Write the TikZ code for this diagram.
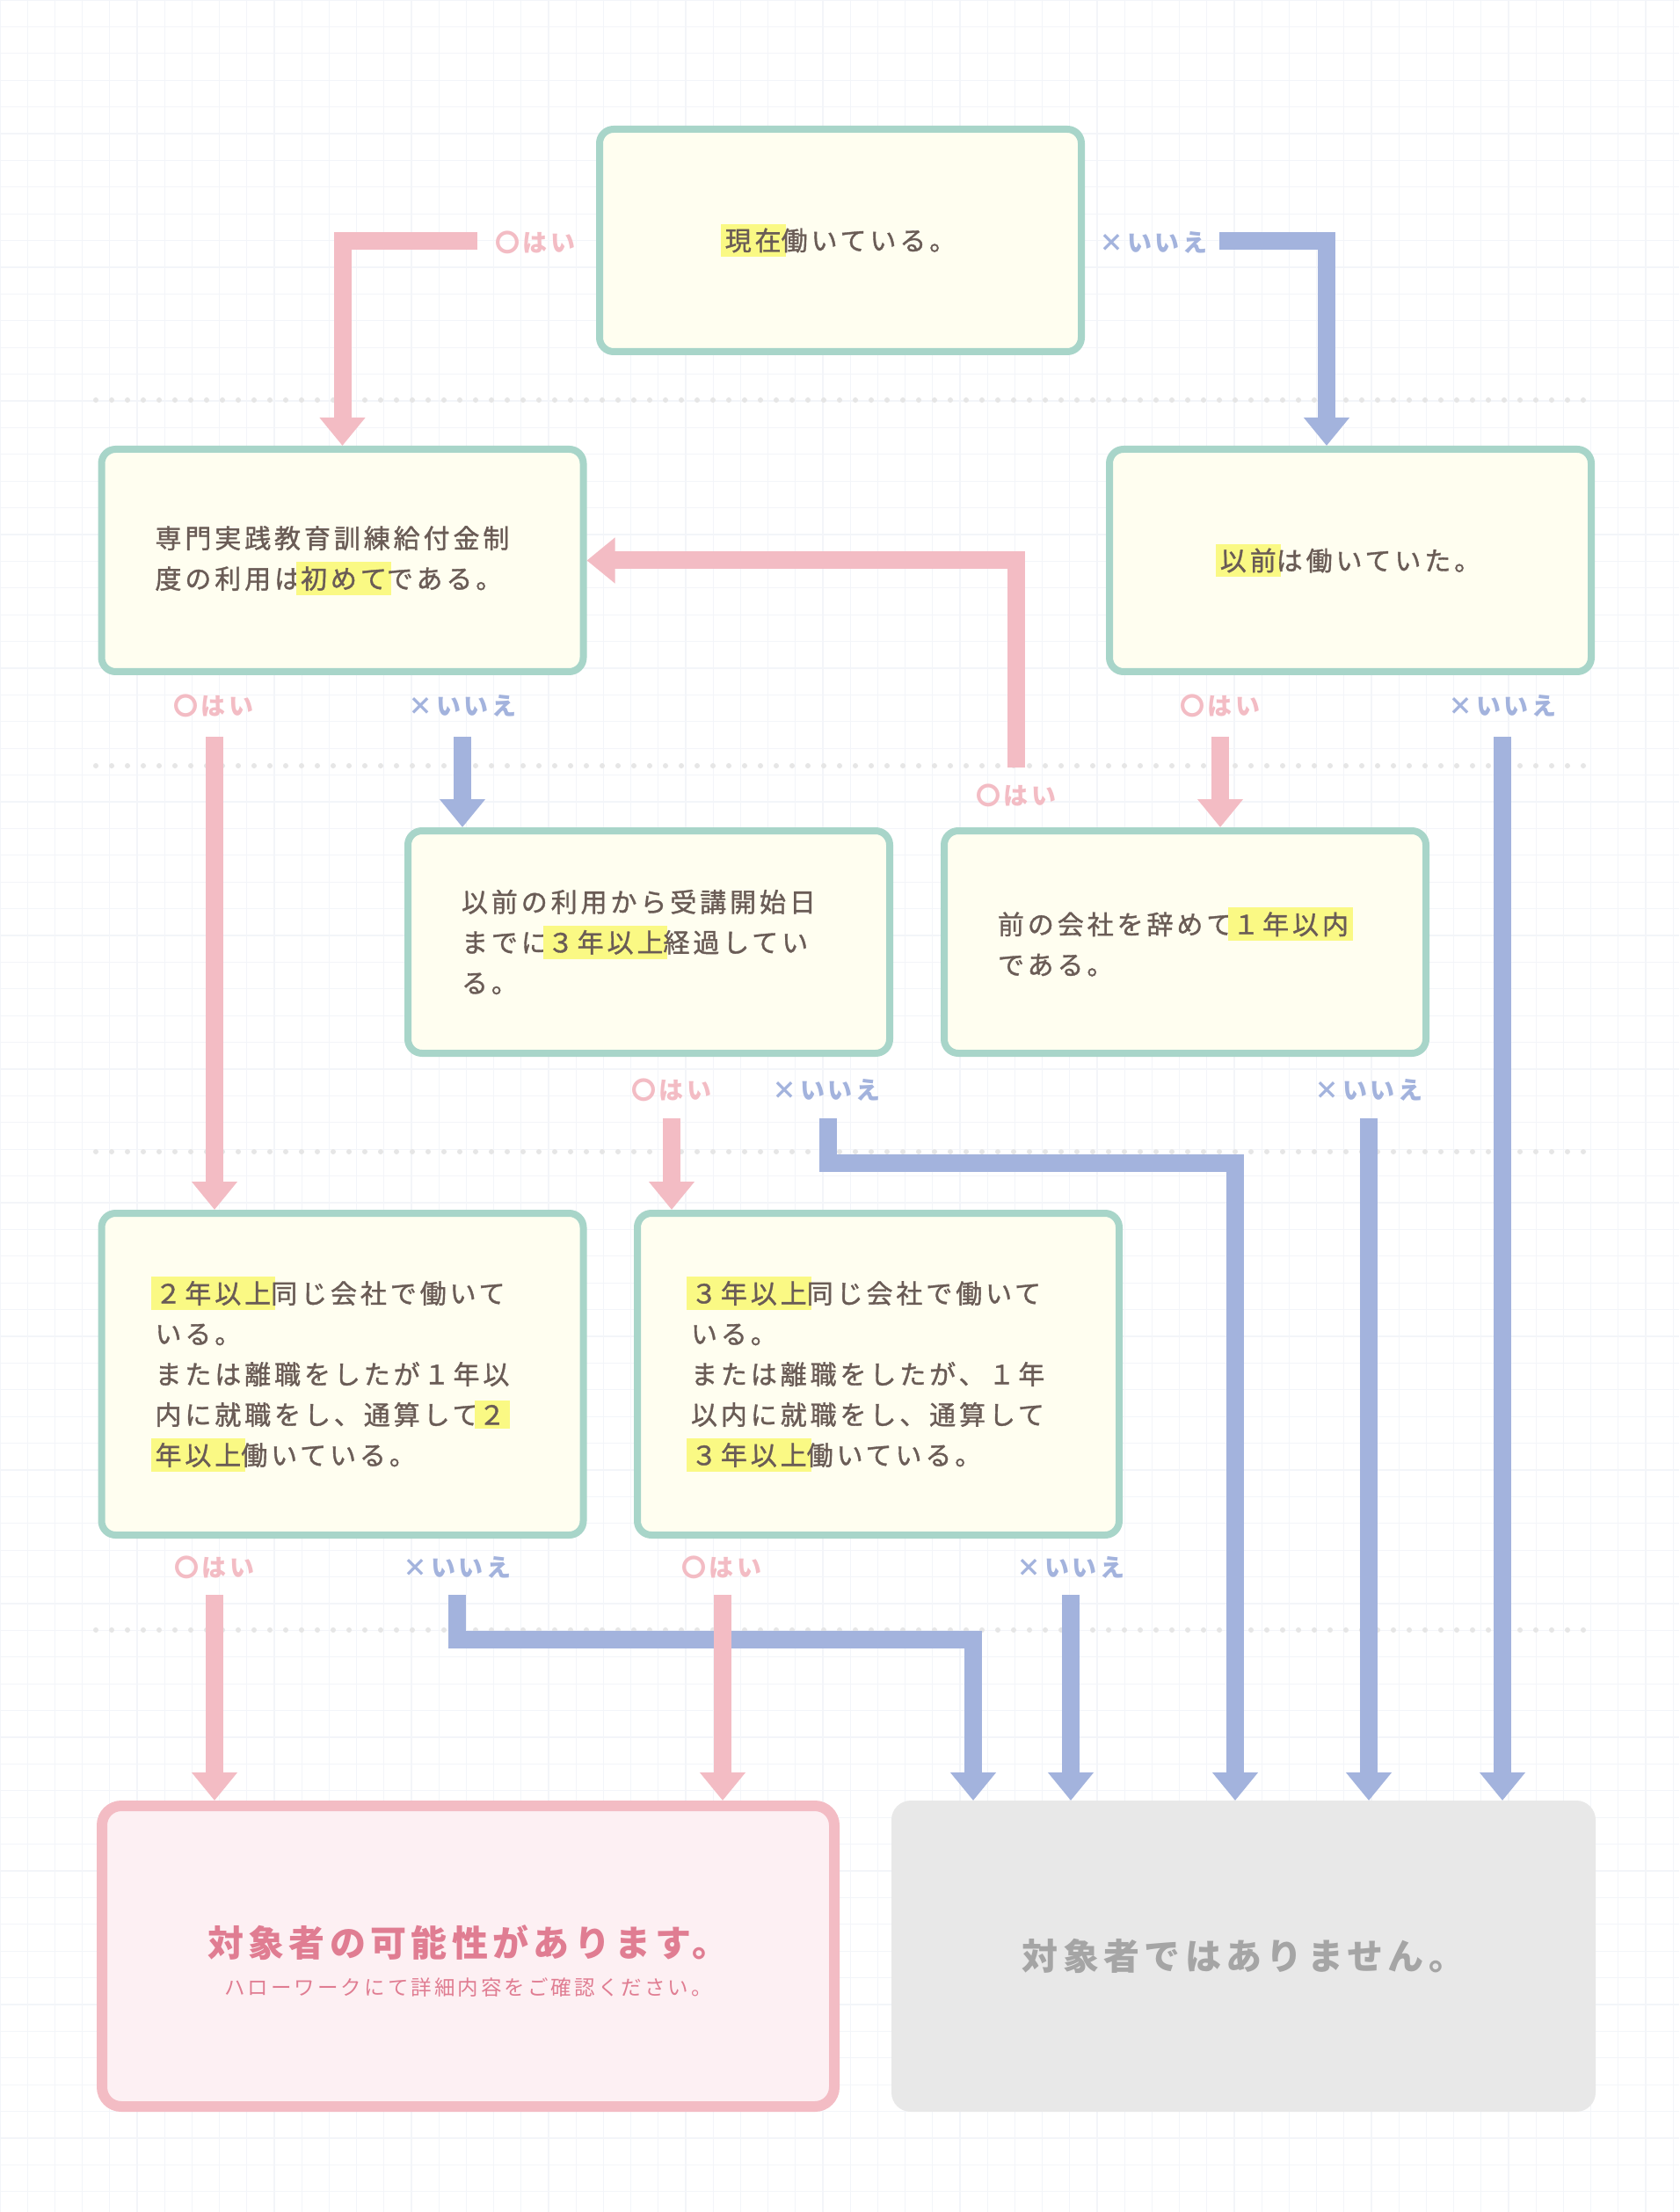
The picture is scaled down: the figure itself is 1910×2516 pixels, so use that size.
\documentclass[tikz,border=0pt]{standalone}
\usepackage{fontspec}
\setmainfont{Noto Sans CJK JP}
\newfontfamily\qfont[LetterSpace=13]{Noto Sans CJK JP}
\newfontfamily\boxfont[LetterSpace=13, FakeBold=1.2]{Noto Sans CJK JP}
\usetikzlibrary{arrows.meta}

\definecolor{gridc}{HTML}{F3F5F9}
\definecolor{dotc}{HTML}{E6E6E6}
\definecolor{boxline}{HTML}{A8D5C9}
\definecolor{boxfill}{HTML}{FFFEF0}
\definecolor{hilite}{HTML}{FAF984}
\definecolor{txt}{HTML}{6A5C56}
\definecolor{yesc}{HTML}{F3BCC4}
\definecolor{noc}{HTML}{A3B3DD}
\definecolor{yesfill}{HTML}{FDF0F3}
\definecolor{yestxt}{HTML}{E07D92}
\definecolor{nofill}{HTML}{E8E8E8}
\definecolor{notxt}{HTML}{A5A5A5}

\newcommand{\hlt}[1]{{\setlength{\fboxsep}{1.4pt}\hspace{-1.4pt}\colorbox{hilite}{#1}\hspace{-1.4pt}}}

\begin{document}
\begin{tikzpicture}[x=0.1mm, y=-0.1mm,
    question/.style={draw=boxline, fill=boxfill, line width=0.8mm, rounded corners=1.6mm,
      minimum width=54.8mm, minimum height=25.3mm, text=txt,
      font=\boxfont\fontsize{3mm}{4.6mm}\selectfont},
    wide/.style={text width=42.6mm, align=left},
    tall/.style={minimum height=36.6mm},
    yesline/.style={draw=yesc, line width=2mm, -{Triangle[width=5mm, length=3.2mm]}},
    noline/.style={draw=noc, line width=2mm, -{Triangle[width=5mm, length=3.2mm]}},
    yeslabel/.style={text=yesc, font=\qfont\bfseries\fontsize{2.8mm}{3mm}\selectfont},
    nolabel/.style={text=noc, font=\qfont\bfseries\fontsize{2.8mm}{3mm}\selectfont},
    sepline/.style={dotc, line width=0.6mm, line cap=round, dash pattern=on 0mm off 1.8mm},
    yesbox/.style={draw=yesc, fill=yesfill, line width=1.2mm, rounded corners=2.2mm,
      minimum width=83.3mm, minimum height=34.2mm, text=yestxt, align=center,
      font=\qfont\fontsize{2.35mm}{4.4mm}\selectfont},
    nobox/.style={fill=nofill, rounded corners=2.2mm, outer sep=0pt,
      minimum width=80.1mm, minimum height=35.4mm, text=notxt,
      font=\qfont\bfseries\fontsize{4.1mm}{5mm}\selectfont}]
    \useasboundingbox (0,0) rectangle (1910,2516);
    \fill[white] (0,0) rectangle (1910,2516);
    % grid
    \foreach \i in {0,...,61} \draw[gridc, line width=0.12mm] (\i*31.2,0) -- (\i*31.2,2516);
    \foreach \j in {0,...,82} \draw[gridc, line width=0.12mm] (0,\j*30.4) -- (1910,\j*30.4);
    \foreach \y in {455,871,1310,1854} \draw[sepline] (109,\y) -- (1806,\y);
    % Q0
    \node[question] (q0) at (956,273.5) {\hlt{現在}働いている。};
    \node[yeslabel] (q0yes) at (609,276) {〇はい};
    \node[nolabel]  (q0no)  at (1312,276) {×いいえ};
    % Q1, Q2
    \node[question, wide] (q1) at (389.5,637.5) {専門実践教育訓練給付金制\\度の利用は\hlt{初めて}である。};
    \node[question] (q2) at (1536,637.5) {\hlt{以前}は働いていた。};
    \node[yeslabel] (q1yes) at (243,803) {〇はい};
    \node[nolabel]  (q1no)  at (526,803) {×いいえ};
    \node[yeslabel] (q2yes) at (1388,803) {〇はい};
    \node[nolabel]  (q2no)  at (1709,803) {×いいえ};
    % Q3, Q4
    \node[question, wide] (q3) at (738,1071.5) {以前の利用から受講開始日\\までに\hlt{３年以上}経過してい\\る。};
    \node[question, wide] (q4) at (1348,1071.5) {前の会社を辞めて\hlt{１年以内}\\である。};
    \node[yeslabel] (q4yes) at (1156,905) {〇はい};
    \node[yeslabel] (q3yes) at (764,1240) {〇はい};
    \node[nolabel]  (q3no)  at (940,1240) {×いいえ};
    \node[nolabel]  (q4no)  at (1557,1240) {×いいえ};
    % Q5, Q6
    \node[question, wide, tall] (q5) at (389.5,1563) {\hlt{２年以上}同じ会社で働いて\\いる。\\または離職をしたが１年以\\内に就職をし、通算して\hlt{２}\\\hlt{年以上}働いている。};
    \node[question, wide, tall] (q6) at (999,1563) {\hlt{３年以上}同じ会社で働いて\\いる。\\または離職をしたが、１年\\以内に就職をし、通算して\\\hlt{３年以上}働いている。};
    \node[yeslabel] (q5yes) at (244,1783) {〇はい};
    \node[nolabel]  (q5no)  at (520,1783) {×いいえ};
    \node[yeslabel] (q6yes) at (821,1783) {〇はい};
    \node[nolabel]  (q6no)  at (1218,1783) {×いいえ};
    % results
    \node[yesbox] (yes) at (532.5,2225) {{\rule{0pt}{4.6mm}\bfseries\fontsize{4.1mm}{5mm}\selectfont 対象者の可能性があります。}\\ハローワークにて詳細内容をご確認ください。};
    \node[nobox] (no) at (1414.5,2225) {対象者ではありません。};
    % no arrows
    \coordinate (q0n) at (1387,274);
    \coordinate (q0nb) at (1509,274);
    \draw[noline] (q0n) -- (q0nb) -- (q0nb |- q2.north);
    \coordinate (q1n) at (526,838);
    \draw[noline] (q1n) -- (q1n |- q3.north);
    \coordinate (q2n) at (1709,838);
    \draw[noline] (q2n) -- (q2n |- no.north);
    \coordinate (q3n) at (942,1272);
    \coordinate (q3nb) at (1405,1323);
    \draw[noline] (q3n) |- (q3nb) -- (q3nb |- no.north);
    \coordinate (q4n) at (1557,1272);
    \draw[noline] (q4n) -- (q4n |- no.north);
    \coordinate (q5n) at (520,1814);
    \coordinate (q5nb) at (1107,1865);
    \draw[noline] (q5n) |- (q5nb) -- (q5nb |- no.north);
    \coordinate (q6n) at (1218,1814);
    \draw[noline] (q6n) -- (q6n |- no.north);
    % yes arrows
    \coordinate (q0y) at (543,274);
    \draw[yesline] (q0y) -| (q1.north);
    \coordinate (q1y) at (244,838);
    \draw[yesline] (q1y) -- (q1y |- q5.north);
    \coordinate (q2y) at (1388,838);
    \draw[yesline] (q2y) -- (q2y |- q4.north);
    \coordinate (q4y) at (1156,873);
    \draw[yesline] (q4y) |- (q1.east);
    \coordinate (q3y) at (764,1272);
    \draw[yesline] (q3y) -- (q3y |- q6.north);
    \coordinate (q5y) at (244,1814);
    \draw[yesline] (q5y) -- (q5y |- yes.north);
    \coordinate (q6y) at (822,1814);
    \draw[yesline] (q6y) -- (q6y |- yes.north);
\end{tikzpicture}
\end{document}
